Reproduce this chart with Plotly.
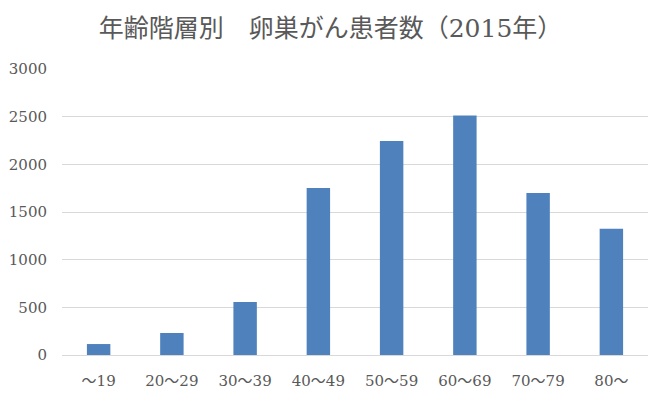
import plotly.graph_objects as go

categories = ["～19", "20～29", "30～39", "40～49", "50～59", "60～69", "70～79", "80～"]
patients = [115, 231, 557, 1752, 2244, 2512, 1698, 1323]
y_ticks = [0, 500, 1000, 1500, 2000, 2500, 3000]
title_text = "年齢階層別　卵巣がん患者数（2015年）"

font_family = "DejaVu Serif, Liberation Serif, Noto Sans CJK JP"

W, H = 659, 386  # page body has an 8px margin

fig = go.Figure(
    go.Bar(
        x=categories,
        y=patients,
        marker=dict(color="#4f81bd", line=dict(width=0)),
    )
)

fig.update_layout(
    width=W,
    height=H,
    margin=dict(l=54, r=19, t=61, b=39, autoexpand=False),
    paper_bgcolor="white",
    plot_bgcolor="white",
    bargap=0.68,
    showlegend=False,
    font=dict(family=font_family, color="#595959", size=15),
    title=dict(
        text=title_text,
        x=322.5 / W,
        xanchor="center",
        xref="container",
        y=1 - 20 / H,
        yref="container",
        yanchor="middle",
        font=dict(family=font_family, size=25, color="#595959"),
    ),
)

fig.update_xaxes(
    automargin=False,
    showline=True,
    linecolor="#d9d9d9",
    linewidth=1,
    ticks="",
    ticklabelstandoff=12,
    tickfont=dict(family=font_family, size=15, color="#595959"),
    showgrid=False,
)

fig.update_yaxes(
    automargin=False,
    range=[0, 3000],
    tickvals=y_ticks,
    showgrid=True,
    gridcolor="#d9d9d9",
    gridwidth=1,
    zeroline=False,
    ticks="",
    ticklabelstandoff=14,
    tickfont=dict(family=font_family, size=15, color="#595959"),
)

fig.write_html("out.html")
